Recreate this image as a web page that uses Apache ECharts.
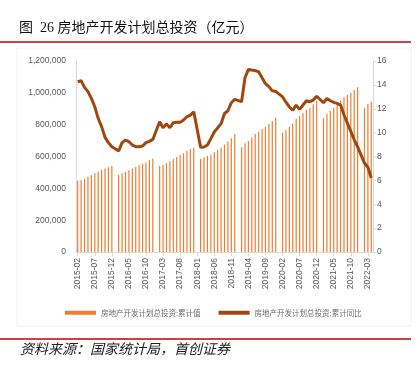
<!DOCTYPE html>
<html>
<head>
<meta charset="utf-8">
<script src="https://cdn.jsdelivr.net/npm/echarts@6/dist/echarts.min.js"></script>
<style>
  html, body { margin: 0; padding: 0; background: #fff; }
  #chart { width: 417px; height: 367px; }
</style>
</head>
<body>
<div id="chart"></div>
<script>
// month categories, 2015-02 .. 2022-04 (January has no data)
var months = [
    '2015-02','2015-03','2015-04','2015-05','2015-06','2015-07','2015-08','2015-09','2015-10','2015-11','2015-12',
    '2016-01','2016-02','2016-03','2016-04','2016-05','2016-06','2016-07','2016-08','2016-09','2016-10','2016-11','2016-12',
    '2017-01','2017-02','2017-03','2017-04','2017-05','2017-06','2017-07','2017-08','2017-09','2017-10','2017-11','2017-12',
    '2018-01','2018-02','2018-03','2018-04','2018-05','2018-06','2018-07','2018-08','2018-09','2018-10','2018-11','2018-12',
    '2019-01','2019-02','2019-03','2019-04','2019-05','2019-06','2019-07','2019-08','2019-09','2019-10','2019-11','2019-12',
    '2020-01','2020-02','2020-03','2020-04','2020-05','2020-06','2020-07','2020-08','2020-09','2020-10','2020-11','2020-12',
    '2021-01','2021-02','2021-03','2021-04','2021-05','2021-06','2021-07','2021-08','2021-09','2021-10','2021-11','2021-12',
    '2022-01','2022-02','2022-03','2022-04'
];

// 房地产开发计划总投资:累计值 (亿元)
var totalValue = [
    448000, 452000, 459000, 473000, 484000, 494000, 505000, 515000, 524000, 532000, 540000,
    null, 484000, 494000, 503000, 513000, 524000, 534000, 545000, 555000, 563000, 576000, 588000,
    null, 540000, 547000, 557000, 570000, 584000, 597000, 609000, 620000, 635000, 647000, 655000,
    null, 585000, 595000, 604000, 613000, 626000, 642000, 657000, 675000, 695000, 715000, 741000,
    null, 658000, 683000, 697000, 720000, 741000, 756000, 773000, 787000, 804000, 823000, 842000,
    null, 750000, 767000, 787000, 806000, 838000, 855000, 871000, 892000, 907000, 928000, 951000,
    null, 840000, 867000, 888000, 907000, 932000, 951000, 972000, 988000, 1001000, 1018000, 1035000,
    null, 903000, 930000, 944000
];

// 房地产开发计划总投资:累计同比 (%)
var yoyValue = [
    14.26, 14.35, 13.79, 13.43, 12.87, 12.17, 11.2, 10.5, 9.6, 9.16, 8.82,
    null, 8.46, 9.16, 9.38, 9.24, 8.96, 8.82, 8.82, 8.88, 9.16, 9.27, 9.43,
    null, 10.91, 10.41, 10.72, 10.41, 10.83, 10.86, 10.86, 11.06, 11.33, 11.47, 11.75,
    null, 8.77, 8.8, 8.96, 9.5, 10.05, 10.4, 10.75, 11.6, 11.83, 12.5, 12.79,
    null, 12.59, 14.6, 15.3, 15.24, 15.19, 15.1, 14.6, 14.1, 13.85, 13.5, 13.45,
    null, 13.0, 12.55, 12.15, 11.87, 12.3, 11.95, 12.31, 12.67, 12.59, 12.73, 13.05,
    null, 12.5, 12.87, 12.67, 12.53, 12.45, 12.31, 11.5, 10.8, 10.1, 9.4, 8.8,
    null, 7.45, 7.1, 6.2
];

var seriesNames = ['房地产开发计划总投资:累计值', '房地产开发计划总投资:累计同比'];

var chart = echarts.init(document.getElementById('chart'));
var axisGray = '#D9D9D9';
var labelGray = '#595959';

var option = {
    animation: false,
    backgroundColor: '#fff',
    grid: { left: 76, right: 44, top: 61, bottom: 115 },
    legend: {
        left: 60,
        top: 304,
        icon: 'rect',
        itemWidth: 31,
        itemHeight: 4,
        itemGap: 18,
        textStyle: { color: '#6b6b6b', fontSize: 7.5, fontFamily: 'Noto Sans CJK SC' },
        data: seriesNames
    },
    xAxis: {
        type: 'category',
        data: months,
        boundaryGap: true,
        axisLine: { lineStyle: { color: axisGray } },
        axisTick: { show: true, alignWithLabel: true, interval: 4, length: 4, lineStyle: { color: axisGray } },
        axisLabel: {
            interval: 4,
            rotate: 90,
            margin: 6,
            color: labelGray,
            fontSize: 8.5,
            fontFamily: 'Liberation Sans'
        }
    },
    yAxis: [
        {
            type: 'value',
            min: 0,
            max: 1200000,
            interval: 200000,
            splitLine: { show: false },
            axisLine: { show: true, lineStyle: { color: axisGray } },
            axisTick: { show: false },
            axisLabel: {
                margin: 10,
                color: labelGray,
                fontSize: 8.5,
                fontFamily: 'Liberation Sans',
                formatter: function (v) { return v.toLocaleString('en-US'); }
            }
        },
        {
            type: 'value',
            min: 0,
            max: 16,
            interval: 2,
            splitLine: { show: false },
            axisLine: { show: true, lineStyle: { color: axisGray } },
            axisTick: { show: true, length: 3, lineStyle: { color: axisGray } },
            axisLabel: {
                margin: 4,
                color: labelGray,
                fontSize: 8.5,
                fontFamily: 'Liberation Sans'
            }
        }
    ],
    series: [
        {
            name: seriesNames[0],
            type: 'bar',
            yAxisIndex: 0,
            barWidth: 1.2,
            itemStyle: { color: '#EE7E33' },
            data: totalValue
        },
        {
            name: seriesNames[1],
            type: 'line',
            yAxisIndex: 1,
            connectNulls: true,
            showSymbol: false,
            symbol: 'none',
            itemStyle: { color: '#9E480E' },
            lineStyle: { color: '#9E480E', width: 3 },
            data: yoyValue
        }
    ],
    graphic: [
        {
            type: 'rect',
            shape: { x: 17, y: 48, width: 394, height: 278 },
            style: { fill: 'none', stroke: '#F2F2F2', lineWidth: 1 },
            silent: true
        },
        {
            type: 'text',
            left: 19,
            top: 21,
            style: {
                text: '图  26 房地产开发计划总投资（亿元）',
                fill: '#111',
                font: '14px "Liberation Serif", "Noto Sans CJK SC"'
            }
        },
        {
            type: 'line',
            shape: { x1: 0, y1: 42, x2: 411, y2: 42 },
            style: { stroke: '#C00000', lineWidth: 1.5 }
        },
        {
            type: 'line',
            shape: { x1: 0, y1: 339, x2: 411, y2: 339 },
            style: { stroke: '#C00000', lineWidth: 1.5 }
        },
        {
            type: 'text',
            left: 20,
            top: 342,
            style: {
                text: '资料来源：国家统计局，首创证券',
                fill: '#222',
                font: 'italic 14px "Noto Sans CJK SC"'
            }
        }
    ]
};

chart.setOption(option);
window.addEventListener('resize', function () {
    chart.resize();
});
</script>
</body>
</html>
